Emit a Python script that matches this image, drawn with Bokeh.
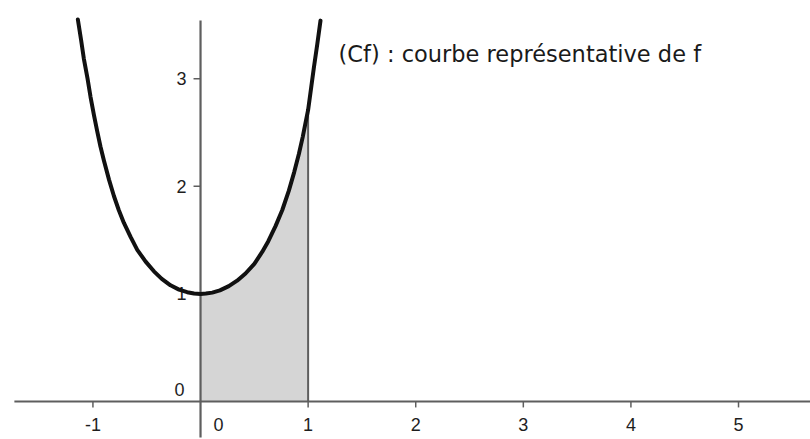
from bokeh.plotting import figure
from bokeh.models import Range1d
from bokeh.core.properties import value
from bokeh.embed import file_html
from bokeh.resources import INLINE

# Curve points
curve_x = [-1.14, -1.11, -1.085, -1.05, -1.022, -0.99, -0.96, -0.93, -0.898, -0.85, -0.805,
           -0.76, -0.712, -0.65, -0.588, -0.51, -0.433, -0.36, -0.279, -0.2, -0.124, -0.06,
           0.0, 0.05, 0.109, 0.18, 0.263, 0.34, 0.418, 0.5, 0.573, 0.63, 0.697, 0.76, 0.821,
           0.87, 0.914, 0.95, 0.992, 1.0, 1.03, 1.053, 1.085, 1.115]
curve_y = [3.55, 3.36, 3.19, 3.00, 2.83, 2.66, 2.51, 2.37, 2.24, 2.06, 1.91,
           1.78, 1.66, 1.53, 1.41, 1.30, 1.21, 1.14, 1.08, 1.04, 1.016, 1.004,
           1.0, 1.003, 1.012, 1.033, 1.072, 1.123, 1.19, 1.28, 1.39, 1.49, 1.63, 1.78, 1.96,
           2.13, 2.30, 2.46, 2.67, 2.71, 2.93, 3.10, 3.32, 3.54]

# Shaded area bounds
area_a = 0.0
area_b = 1.0

xtick_vals = [-1, 0, 1, 2, 3, 4, 5]
xtick_labels = ["-1", "0", "1", "2", "3", "4", "5"]
ytick_vals = [0, 1, 2, 3]
ytick_labels = ["0", "1", "2", "3"]

caption = "(Cf) : courbe représentative de f"

AX = "#5e5e5e"

p = figure(width=810, height=439, output_backend="svg", toolbar_location=None,
           x_range=Range1d(-1.859, 5.669), y_range=Range1d(-0.353, 3.727),
           min_border=0, background_fill_color="white")
p.xaxis.visible = False
p.yaxis.visible = False
p.xgrid.visible = False
p.ygrid.visible = False
p.outline_line_color = None

# shaded area under curve between a and b
fx = [x for x in curve_x if area_a <= x <= area_b]
fy = [y for x, y in zip(curve_x, curve_y) if area_a <= x <= area_b]
p.varea(x=fx, y1=[0] * len(fx), y2=fy, fill_color="#d5d5d5")

# vertical line at x = b
p.segment(x0=[area_b], y0=[0], x1=[area_b], y1=[fy[-1]], line_color=AX, line_width=2)

# axes
p.segment(x0=[-1.73], y0=[0], x1=[5.67], y1=[0], line_color=AX, line_width=2.2)
p.segment(x0=[0], y0=[-0.335], x1=[0], y1=[3.54], line_color=AX, line_width=2.2)

# ticks
xt = [v for v in xtick_vals if v != 0]
p.segment(x0=xt, y0=[0] * len(xt), x1=xt, y1=[-0.055] * len(xt), line_color=AX, line_width=1.5)
yt = [v for v in ytick_vals if v != 0]
p.segment(x0=[0] * len(yt), y0=yt, x1=[-0.065] * len(yt), y1=yt, line_color=AX, line_width=1.5)

font = value("Liberation Sans")
TC = "#1e1e1e"
# x tick labels
xl_x = [v for v in xtick_vals if v != 0]
xl_t = [t for v, t in zip(xtick_vals, xtick_labels) if v != 0]
p.text(x=xl_x, y=[0] * len(xl_x), text=xl_t, text_font=font, text_font_size="18px",
       text_color=TC, text_align="center", text_baseline="middle", y_offset=23)
p.text(x=[0], y=[0], text=[xtick_labels[xtick_vals.index(0)]], text_font=font, text_font_size="18px",
       text_color=TC, text_align="center", text_baseline="middle", x_offset=18, y_offset=23)
# y tick labels
yl_y = [v for v in ytick_vals if v != 0]
yl_t = [t for v, t in zip(ytick_vals, ytick_labels) if v != 0]
p.text(x=[0] * len(yl_y), y=yl_y, text=yl_t, text_font=font, text_font_size="18px",
       text_color=TC, text_align="right", text_baseline="middle", x_offset=-14)
p.text(x=[0], y=[0], text=[ytick_labels[ytick_vals.index(0)]], text_font=font, text_font_size="18px",
       text_color=TC, text_align="right", text_baseline="middle", x_offset=-16, y_offset=-12)

# curve
p.line(curve_x, curve_y, line_color="#111111", line_width=4, line_join="round", line_cap="round")

# caption
p.text(x=[1.283], y=[3.234], text=[caption], text_font=value("DejaVu Sans"), text_font_size="22.5px",
       text_color="#1a1a1a", text_align="left", text_baseline="middle")

open("out.html", "w").write(file_html(p, INLINE))
